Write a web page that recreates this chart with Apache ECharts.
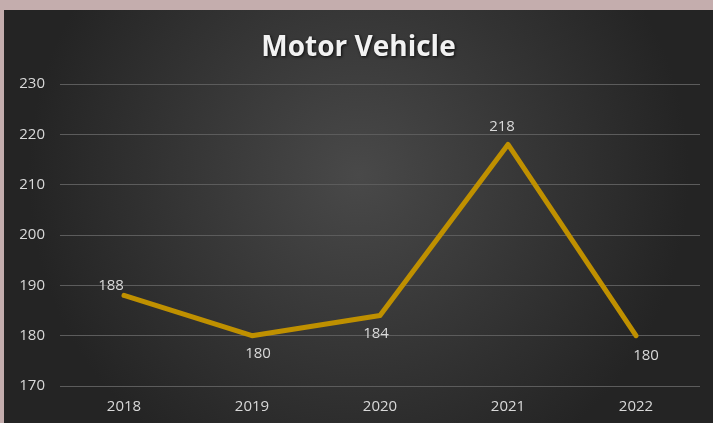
<!DOCTYPE html>
<html>
<head>
<meta charset="utf-8">
<title>Motor Vehicle</title>
<script src="https://cdn.jsdelivr.net/npm/echarts@6/dist/echarts.min.js"></script>
<style>
html, body { margin: 0; padding: 0; width: 713px; height: 423px; background: #c4adad; overflow: hidden; }
#chart { position: absolute; left: 4px; top: 10px; width: 709px; height: 413px; }
</style>
</head>
<body>
<div id="chart"></div>
<script>
var years = ['2018', '2019', '2020', '2021', '2022'];
var values = [188, 180, 184, 218, 180];
var yTicks = [170, 230, 10]; // min, max, step

// label placement per point (as in the original)
var labelPos = [
    { position: 'top', offset: [-13, 5] },
    { position: 'bottom', offset: [6, 4] },
    { position: 'bottom', offset: [-4, 4] },
    { position: 'top', offset: [-6, -3] },
    { position: 'bottom', offset: [10, 6] }
];

var chart = echarts.init(document.getElementById('chart'));
var option = {
    backgroundColor: {
        type: 'radial', x: 0.5, y: 0.4, r: 0.8,
        colorStops: [
            { offset: 0, color: '#494949' },
            { offset: 1, color: '#242424' }
        ]
    },
    title: {
        text: 'Motor Vehicle',
        left: 'center',
        top: 19,
        textStyle: {
            color: '#f2f2f2', fontSize: 28, fontWeight: 'bold', fontFamily: 'Open Sans',
            textShadowColor: 'rgba(0,0,0,0.8)', textShadowBlur: 3, textShadowOffsetX: 1, textShadowOffsetY: 1
        }
    },
    grid: { left: 56, right: 13, top: 74, bottom: 37 },
    xAxis: {
        type: 'category',
        data: years,
        axisLine: { show: false },
        axisTick: { show: false },
        axisLabel: { color: '#d9d9d9', fontSize: 15, fontFamily: 'Open Sans', margin: 13 }
    },
    yAxis: {
        type: 'value',
        min: yTicks[0], max: yTicks[1], interval: yTicks[2],
        axisLine: { show: false },
        axisTick: { show: false },
        axisLabel: { color: '#d9d9d9', fontSize: 15, fontFamily: 'Open Sans', margin: 15 },
        splitLine: { lineStyle: { color: '#5c5c5c', width: 1 } }
    },
    series: [{
        type: 'line',
        data: values.map(function (v, i) {
            return { value: v, label: labelPos[i] };
        }),
        symbol: 'circle',
        symbolSize: 4,
        showSymbol: true,
        lineStyle: { color: '#bf9000', width: 5, cap: 'round', join: 'round' },
        itemStyle: { color: '#bf9000', borderWidth: 0 },
        label: { show: true, color: '#d9d9d9', fontSize: 15, fontFamily: 'Open Sans' }
    }]
};
chart.setOption(option);
</script>
</body>
</html>
